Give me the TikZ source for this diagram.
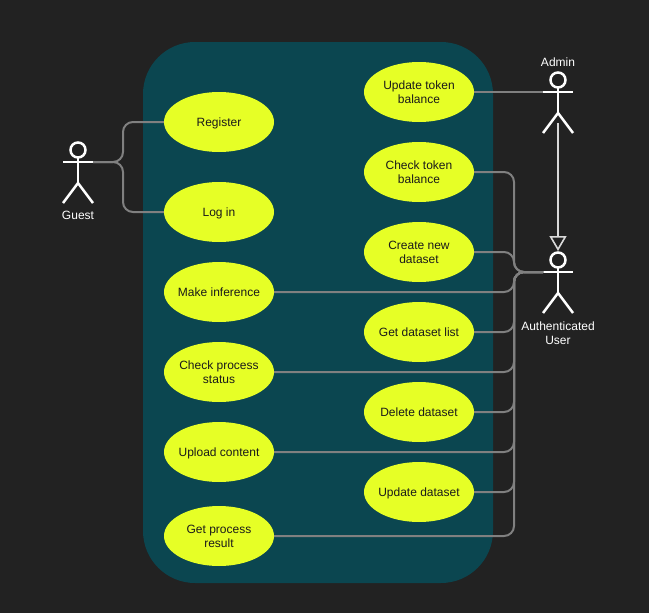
\documentclass[tikz,border=0pt]{standalone}
\usepackage{fontspec}
\setmainfont{Liberation Sans}
\usetikzlibrary{shapes.geometric,arrows.meta}
\definecolor{canvas}{HTML}{222222}
\definecolor{boundary}{HTML}{0B4650}
\definecolor{usecasefill}{HTML}{E6FF26}
\definecolor{linkgray}{HTML}{808080}
\definecolor{textdark}{HTML}{1A1A1A}
\tikzset{
    usecase/.style={ellipse,fill=usecasefill,text=textdark,inner sep=-20pt,text depth=-1.5pt,minimum width=110pt,minimum height=60pt,align=center,font=\fontsize{12}{14}\selectfont},
    actorlabel/.style={text=white,inner sep=0pt,align=center,font=\fontsize{12}{14}\selectfont},
    link/.style={draw=linkgray,line width=2pt,rounded corners=10pt},
    inherit/.style={draw=white!85!black,line width=2pt,-{Triangle[open,length=15pt,width=17pt,line width=1.6pt]}},
    pics/actor/.style={code={
        \draw[white,line width=2.5pt] (0,-12) circle (7.5pt);
        \draw[white,line width=2.5pt] (0,-4) -- (0,21) (-15,0) -- (15,0);
        \draw[white,line width=2.5pt] (-15,41) -- (0,21) -- (15,41);
        \coordinate (-west) at (-15,0);
        \coordinate (-east) at (15,0);
    }},
}
\begin{document}
\begin{tikzpicture}[x=1pt,y=-1pt]
    \useasboundingbox (0,0) rectangle (649,613);
    \fill[canvas] (0,0) rectangle (649,613);
    \fill[boundary,rounded corners=52pt] (143,42) rectangle (493,583);

    % left column
    \node[usecase] (register) at (219,122) {Register};
    \node[usecase] (login) at (219,212) {Log in};
    \node[usecase] (inference) at (219,292) {Make inference};
    \node[usecase] (status) at (219,372) {Check process\\status};
    \node[usecase] (upload) at (219,452) {Upload content};
    \node[usecase] (result) at (219,536) {Get process\\result};

    % right column
    \node[usecase] (token) at (419,92) {Update token\\balance};
    \node[usecase] (balance) at (419,172) {Check token\\balance};
    \node[usecase] (create) at (419,252) {Create new\\dataset};
    \node[usecase] (list) at (419,332) {Get dataset list};
    \node[usecase] (delete) at (419,412) {Delete dataset};
    \node[usecase] (update) at (419,492) {Update dataset};

    \coordinate (guestbus) at (123,162);
    \coordinate (userbus) at (514,272);
    \coordinate (adminfoot) at (558,123);
    \coordinate (usertop) at (558,251);

    % actors
    \pic (guest) at (78,162) {actor};
    \pic (admin) at (558,92) {actor};
    \pic (user) at (558,272) {actor};
    \node[actorlabel] (guestlabel) at (78,215.5) {Guest};
    \node[actorlabel] (adminlabel) at (558,62.5) {Admin};
    \node[actorlabel] (userlabel) at (558,333) {Authenticated\\User};

    % guest links
    \draw[link] (guest-east) -- (guestbus) |- (register.west);
    \draw[link] (guest-east) -- (guestbus) |- (login.west);

    % admin links
    \draw[link] (token.east) -- (admin-west);
    \draw[inherit] (adminfoot) -- (usertop);

    % user links
    \foreach \ucase in {balance,create,inference,list,status,delete,upload,update,result}
        \draw[link] (\ucase.east) -| (userbus) -- (user-west);
\end{tikzpicture}
\end{document}
